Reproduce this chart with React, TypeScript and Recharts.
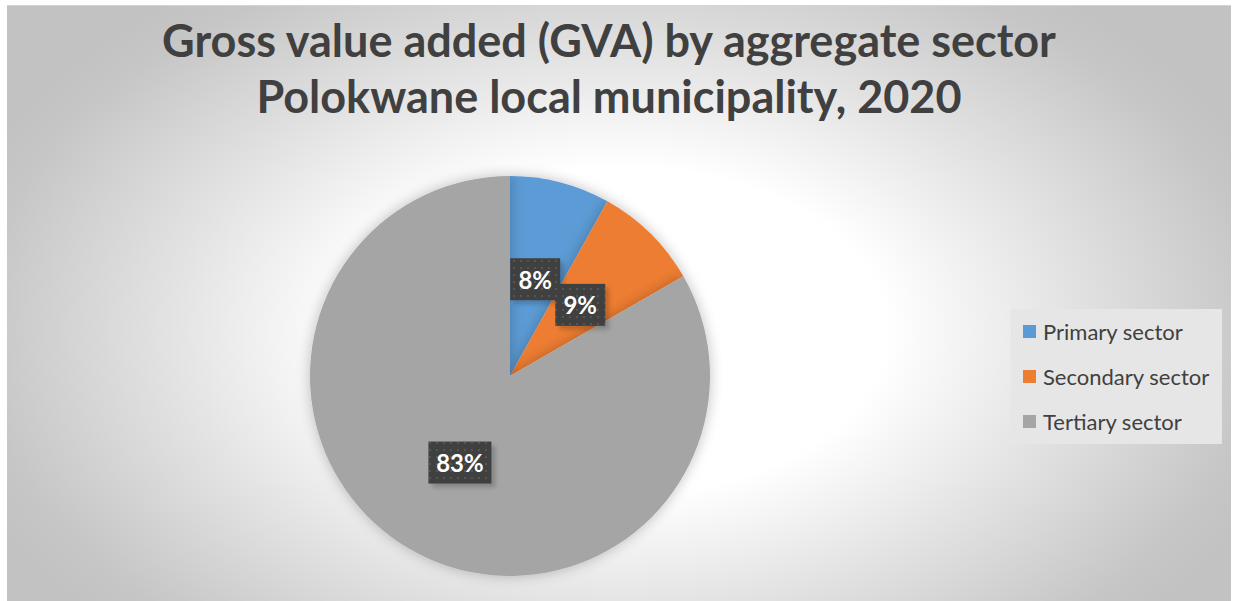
import React from 'react';
import { PieChart, Pie, Cell, Legend } from 'recharts';

const sectors = ['Primary sector', 'Secondary sector', 'Tertiary sector'];
const shares = [8.1, 8.6, 83.3];
const colors = ['#5B9BD5', '#ED7D31', '#A5A5A5'];
const titleLines = ['Gross value added (GVA) by aggregate sector', 'Polokwane local municipality, 2020'];

const data = sectors.map((name, i) => ({ name, value: shares[i] }));

const RADIAN = Math.PI / 180;

const renderLabel = (props: any) => {
  const { cx, cy, midAngle, outerRadius, percent, index } = props;
  const r = outerRadius * 0.5;
  const x = cx + r * Math.cos(-midAngle * RADIAN);
  const y = cy + r * Math.sin(-midAngle * RADIAN);
  const txt = `${Math.round(percent * 100)}%`;
  const w = txt.length === 3 ? 63 : 50;
  const h = 42;
  return (
    <g key={`lbl-${index}`}>
      <rect x={x - w / 2 + 4} y={y - h / 2 + 4} width={w} height={h} fill="#000" opacity={0.18} filter="url(#lblBlur)" />
      <rect x={x - w / 2} y={y - h / 2} width={w} height={h} fill="url(#dotPattern)" />
      <text x={x} y={y} fill="#ffffff" textAnchor="middle" dominantBaseline="central"
        style={{ fontFamily: 'Lato, "Open Sans", sans-serif', fontWeight: 700, fontSize: 24 }}>
        {txt}
      </text>
    </g>
  );
};

const renderLegend = (props: any) => {
  const { payload } = props;
  return (
    <div style={{ width: 211, height: 135, background: '#e6e6e6', boxSizing: 'border-box', paddingTop: 0, paddingLeft: 12 }}>
      {payload.map((entry: any, i: number) => (
        <div key={i} style={{ display: 'flex', alignItems: 'center', height: 45 }}>
          <div style={{ width: 13, height: 13, background: entry.color, marginRight: 7 }} />
          <span style={{ fontFamily: 'Lato, "Open Sans", sans-serif', fontSize: 22, color: '#404040' }}>{entry.value}</span>
        </div>
      ))}
    </div>
  );
};

export default function App() {
  return (
    <div style={{ position: 'absolute', left: 7, top: 5, width: 1224, height: 596, boxSizing: 'border-box', borderTop: '1px solid #d4d4d4',
      background: 'radial-gradient(ellipse 700px 430px at 613px 325px, #ffffff 0%, #ffffff 38%, #e2e2e2 65%, #c6c6c6 92%, #c2c2c2 100%)' }}>
      <div style={{ position: 'absolute', left: 0, top: 6, width: 1204, textAlign: 'center', fontFamily: 'Lato, "Open Sans", sans-serif', fontWeight: 700, fontSize: 45, lineHeight: '56px', color: '#404040' }}>
        {titleLines.map((t, i) => <div key={i}>{t}</div>)}
      </div>
      <PieChart width={1224} height={596} style={{ position: 'absolute', left: 0, top: 0 }}>
        <defs>
          <pattern id="dotPattern" width="7" height="7" patternUnits="userSpaceOnUse">
            <rect width="7" height="7" fill="#404040" />
            <rect x="2" y="2" width="2" height="2" fill="#555555" />
          </pattern>
          <filter id="pieShadow" x="-20%" y="-20%" width="140%" height="140%">
            <feGaussianBlur in="SourceAlpha" stdDeviation="7" />
            <feComponentTransfer><feFuncA type="linear" slope="0.25" /></feComponentTransfer>
            <feMerge><feMergeNode /><feMergeNode in="SourceGraphic" /></feMerge>
          </filter>
          <filter id="lblBlur"><feGaussianBlur stdDeviation="2" /></filter>
        </defs>
        <Pie data={data} dataKey="value" nameKey="name" cx={498} cy={365} outerRadius={200}
          startAngle={90} endAngle={-270} stroke="none" label={renderLabel} labelLine={false}
          isAnimationActive={false} style={{ filter: 'url(#pieShadow)' }}>
          {data.map((d, i) => <Cell key={d.name} fill={colors[i]} />)}
        </Pie>
        <Legend content={renderLegend} layout="vertical" wrapperStyle={{ left: 1004, top: 303, width: 211 }} />
      </PieChart>
    </div>
  );
}
